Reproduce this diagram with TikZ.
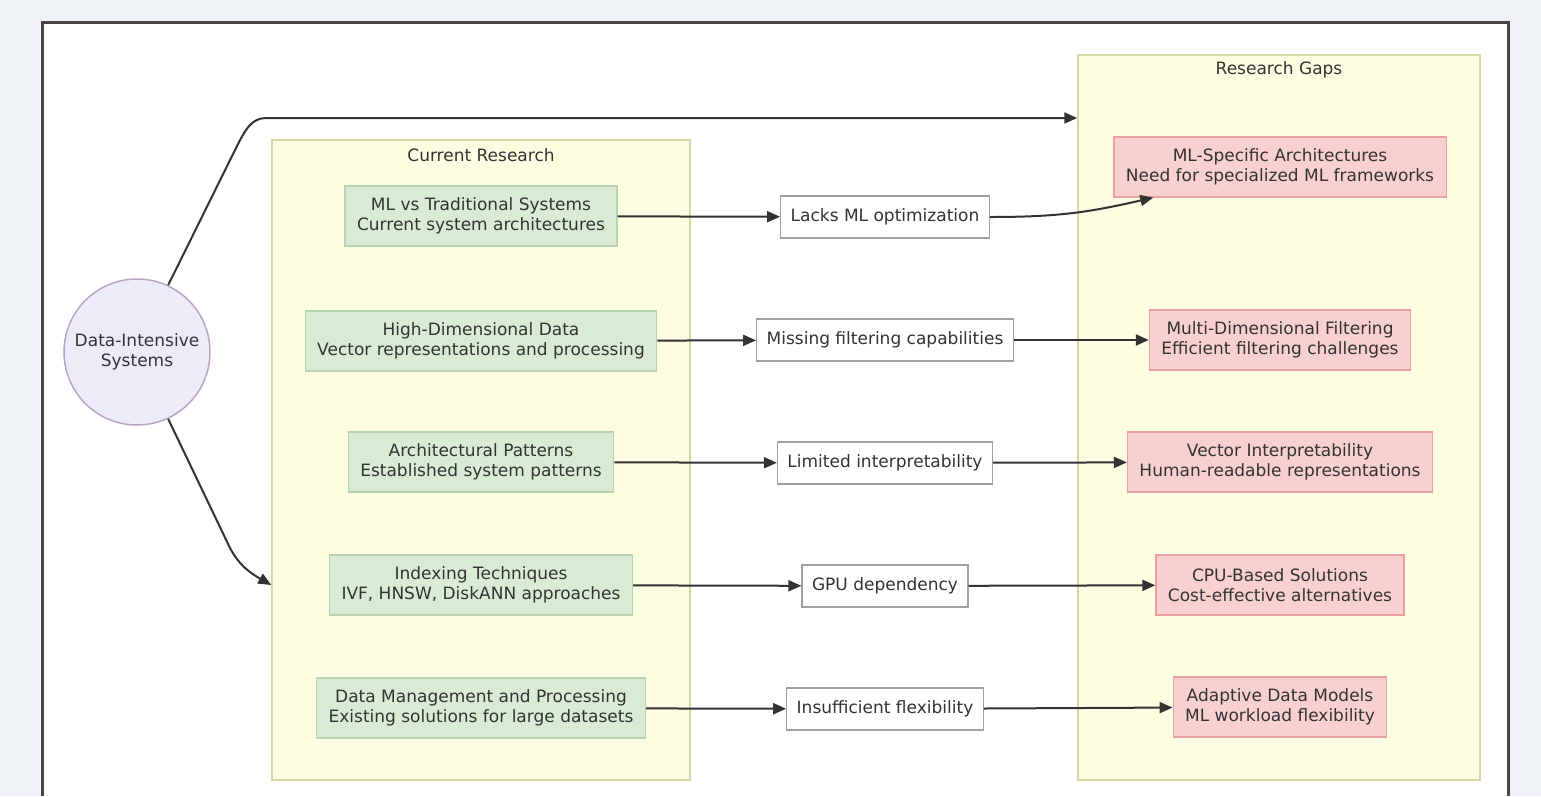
\documentclass[tikz,border=0pt]{standalone}
\usepackage{fontspec}
\setmainfont{DejaVu Sans}
\usetikzlibrary{arrows.meta, calc}

\definecolor{pagebg}{HTML}{EEF1F5}
\definecolor{framegray}{HTML}{4A4545}
\definecolor{textgray}{HTML}{333333}
\definecolor{clusterfill}{HTML}{FDFDE2}
\definecolor{clusterline}{HTML}{D8D8A4}
\definecolor{greenfill}{HTML}{D9EBD5}
\definecolor{greenline}{HTML}{B7D4AE}
\definecolor{redfill}{HTML}{F8D0D0}
\definecolor{redline}{HTML}{E8A0A0}
\definecolor{circfill}{HTML}{ECECF9}
\definecolor{circline}{HTML}{B9A5C6}
\definecolor{issueline}{HTML}{A0A0A0}

\begin{document}
\begin{tikzpicture}[x=1pt, y=-1pt,
            every node/.style={font=\fontsize{17}{20}\selectfont, text=textgray, align=center},
            cluster/.style={draw=clusterline, fill=clusterfill, line width=1.5pt},
            clustertitle/.style={inner sep=0pt},
            current/.style={draw=greenline, fill=greenfill, line width=1.2pt, minimum height=60pt, inner xsep=12pt},
            gap/.style={draw=redline, fill=redfill, line width=1.2pt, minimum height=60pt, inner xsep=12pt},
            issue/.style={draw=issueline, fill=white, line width=1.2pt, minimum height=42pt, inner xsep=10pt},
            flow/.style={draw=textgray, line width=2pt, -{Triangle[length=13pt, width=11pt]}}
            ]
            \useasboundingbox (0,0) rectangle (1541,796);
            \fill[pagebg] (0,0) rectangle (1541,796);

            % panel
            \fill[white] (42,22) rectangle (1508,796);
            \draw[framegray, line width=3pt] (42,796) -- (42,22) -- (1508,22) -- (1508,796);

            % clusters
            \node[cluster, minimum width=418pt, minimum height=640pt] (curres) at (481,460) {};
            \node[clustertitle] (curtitle) at (481,155) {Current Research};
            \node[cluster, minimum width=402pt, minimum height=725pt] (gaps) at (1279,417.5) {};
            \node[clustertitle] (gaptitle) at (1279,70) {Research Gaps};

            \node[draw=circline, fill=circfill, circle, line width=1.5pt, minimum size=146pt, inner sep=0pt] (dis) at (137,352) {Data-Intensive\\Systems};

            % current research
            \node[current] (mlvs) at (481,216) {ML vs Traditional Systems\\Current system architectures};
            \node[current] (hidim) at (481,341) {High-Dimensional Data\\Vector representations and processing};
            \node[current] (archpat) at (481,462) {Architectural Patterns\\Established system patterns};
            \node[current] (indexing) at (481,585) {Indexing Techniques\\IVF, HNSW, DiskANN approaches};
            \node[current] (datamgmt) at (481,708) {Data Management and Processing\\Existing solutions for large datasets};

            % issues
            \node[issue] (lacksml) at (885,217) {Lacks ML optimization};
            \node[issue] (missfilt) at (885,340) {Missing filtering capabilities};
            \node[issue] (liminterp) at (885,463) {Limited interpretability};
            \node[issue] (gpudep) at (885,586) {GPU dependency};
            \node[issue] (insflex) at (885,709) {Insufficient flexibility};

            % research gaps
            \node[gap] (mlarch) at (1280,167) {ML-Specific Architectures\\Need for specialized ML frameworks};
            \node[gap] (multifilt) at (1280,340) {Multi-Dimensional Filtering\\Efficient filtering challenges};
            \node[gap] (vecinterp) at (1280,462) {Vector Interpretability\\Human-readable representations};
            \node[gap] (cpusol) at (1280,585) {CPU-Based Solutions\\Cost-effective alternatives};
            \node[gap] (adaptive) at (1280,707) {Adaptive Data Models\\ML workload flexibility};

            % connectors
            \coordinate (topbend) at (238,144);
            \coordinate (botbend) at (230,548);
            \draw[flow] (dis.65) -- (topbend) to[out=62, in=180] (266,118) -- (gaps.west |- 0,118);
            \draw[flow] (dis.-65) -- (botbend) to[out=-62, in=150] (curres.west |- 0,585);

            \draw[flow] (mlvs) -- (lacksml);
            \draw[flow] (hidim) -- (missfilt);
            \draw[flow] (archpat) -- (liminterp);
            \draw[flow] (indexing) -- (gpudep);
            \draw[flow] (datamgmt) -- (insflex);

            \draw[flow] (lacksml.east) .. controls (1060,217) and (1090,212) .. ([xshift=40pt]mlarch.south west);
            \draw[flow] (missfilt) -- (multifilt);
            \draw[flow] (liminterp) -- (vecinterp);
            \draw[flow] (gpudep) -- (cpusol);
            \draw[flow] (insflex) -- (adaptive);
        \end{tikzpicture}
\end{document}
